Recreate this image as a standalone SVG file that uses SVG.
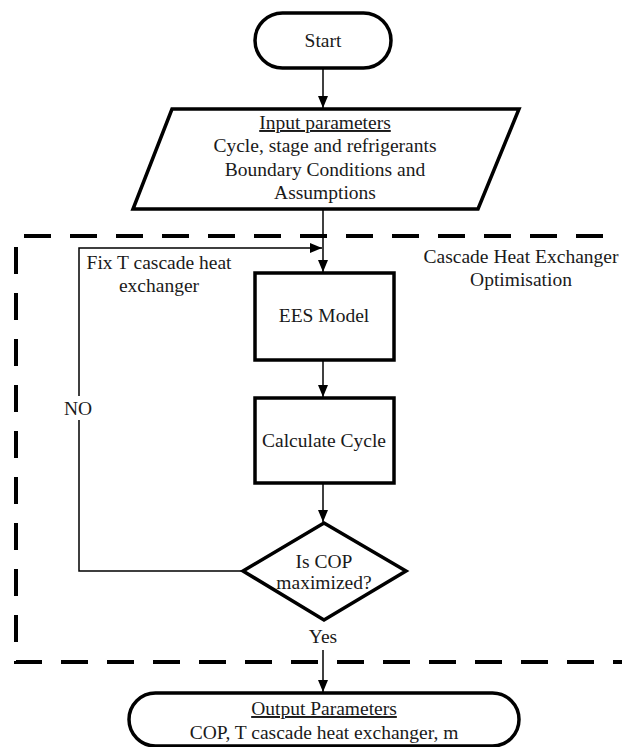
<svg xmlns="http://www.w3.org/2000/svg" width="622" height="747" viewBox="0 0 622 747" font-family="'Liberation Serif', 'DejaVu Serif', serif">
  <style>
    text { font-size: 19.5px; fill: #1a1a1a; text-anchor: middle; }
    .shape { fill: #ffffff; stroke: #000000; stroke-width: 3.5; }
    .flow { fill: none; stroke: #000000; stroke-width: 1.5; }
    .frame { fill: none; stroke: #000000; stroke-width: 4; stroke-dasharray: 27 19; }
    .ul { text-decoration: underline; }
  </style>
  <defs>
    <marker id="arrowBig" viewBox="0 0 12 10" refX="12" refY="5" markerWidth="12" markerHeight="11" markerUnits="userSpaceOnUse" orient="auto">
      <path d="M0,0 L12,5 L0,10 z" fill="#000000"/>
    </marker>
  </defs>
  <rect width="622" height="747" fill="#ffffff"/>

  <!-- optimisation boundary -->
  <g id="optimisation-frame">
    <path class="frame" d="M640,662 L16,662 L16,236 L640,236"/>
    <text x="521" y="263">Cascade Heat Exchanger</text>
    <text x="521" y="286">Optimisation</text>
  </g>

  <!-- connectors -->
  <g id="connectors">
    <line class="flow" x1="323" y1="68" x2="323" y2="108" marker-end="url(#arrowBig)"/>
    <line class="flow" x1="323" y1="210" x2="323" y2="272" marker-end="url(#arrowBig)"/>
    <line class="flow" x1="323" y1="360" x2="323" y2="397" marker-end="url(#arrowBig)"/>
    <line class="flow" x1="323" y1="483" x2="323" y2="522" marker-end="url(#arrowBig)"/>
    <polyline class="flow" points="243,571 79,571 79,248 322,248" marker-end="url(#arrowBig)"/>
    <line class="flow" x1="323" y1="650" x2="323" y2="692" marker-end="url(#arrowBig)"/>
    <rect x="62" y="396" width="33" height="24" fill="#ffffff"/>
    <text x="78" y="415">NO</text>
    <text x="323" y="643">Yes</text>
    <text x="159" y="269">Fix T cascade heat</text>
    <text x="159" y="292">exchanger</text>
  </g>

  <g id="start">
    <rect class="shape" x="255" y="13" width="136" height="55" rx="27.5"/>
    <text x="323" y="47">Start</text>
  </g>

  <g id="input-parameters">
    <polygon class="shape" points="172,109 519,109 478,209 133,209"/>
    <text class="ul" x="325" y="129">Input parameters</text>
    <text x="325" y="152">Cycle, stage and refrigerants</text>
    <text x="325" y="176">Boundary Conditions and</text>
    <text x="325" y="199">Assumptions</text>
  </g>

  <g id="ees-model">
    <rect class="shape" x="255" y="273" width="139" height="87"/>
    <text x="324" y="322">EES Model</text>
  </g>

  <g id="calculate-cycle">
    <rect class="shape" x="255" y="398" width="139" height="85"/>
    <text x="324" y="447">Calculate Cycle</text>
  </g>

  <g id="cop-check">
    <polygon class="shape" points="324,523 406,571 324,620 243,571"/>
    <text x="324" y="568">Is COP</text>
    <text x="324" y="589">maximized?</text>
  </g>

  <g id="output-parameters">
    <rect class="shape" x="129" y="693" width="390" height="53" rx="26.5"/>
    <text class="ul" x="324" y="715">Output Parameters</text>
    <text x="324" y="739">COP, T cascade heat exchanger, m</text>
  </g>
</svg>
